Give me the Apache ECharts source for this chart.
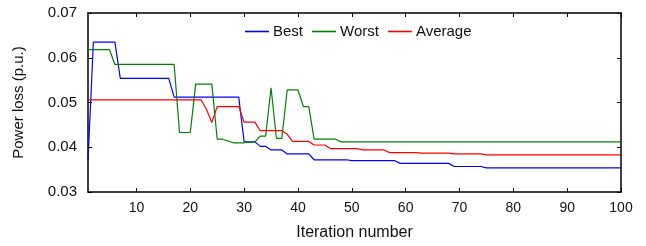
<!DOCTYPE html>
<html>
<head>
<meta charset="utf-8">
<script src="https://cdn.jsdelivr.net/npm/echarts@6/dist/echarts.min.js"></script>
<style>
  html, body { margin: 0; padding: 0; background: #fff; }
  #chart { width: 646px; height: 246px; }
</style>
</head>
<body>
<div id="chart"></div>
<script>
// breakpoints [iteration, loss]; straight segments between them
const bestLoss = [[1,0.0370],[2,0.0635],[6,0.0635],[7,0.0554],[16,0.0554],[17,0.0512],[29,0.0512],[30,0.0412],[32,0.0412],[33,0.0402],[34,0.0402],[35,0.0394],[37,0.0394],[38,0.0385],[42,0.0385],[43,0.0372],[49,0.0372],[50,0.0370],[58,0.0370],[59,0.0364],[68,0.0364],[69,0.0357],[74,0.0357],[75,0.0354],[100,0.0354]];
const worstLoss = [[1,0.0618],[5,0.0618],[6,0.0585],[17,0.0585],[18,0.0433],[20,0.0433],[21,0.0541],[24,0.0541],[25,0.0418],[26,0.0418],[28,0.0410],[30,0.0410],[32,0.0412],[33,0.0425],[34,0.0425],[35,0.0533],[36,0.0420],[37,0.0420],[38,0.0528],[40,0.0528],[41,0.0491],[42,0.0491],[43,0.0418],[47,0.0418],[48,0.0412],[100,0.0412]];
const avgLoss = [[1,0.0506],[22,0.0506],[23,0.0485],[24,0.0455],[25,0.0491],[29,0.0491],[30,0.0456],[32,0.0456],[33,0.0437],[37,0.0437],[38,0.0429],[39,0.0413],[42,0.0413],[43,0.0405],[45,0.0405],[46,0.0397],[51,0.0397],[52,0.0394],[56,0.0394],[57,0.0388],[62,0.0388],[63,0.0387],[68,0.0387],[69,0.0385],[74,0.0385],[75,0.0383],[100,0.0383]];
const xTicks = [10, 20, 30, 40, 50, 60, 70, 80, 90, 100];
const seriesNames = ['Best', 'Worst', 'Average'];
const seriesColors = ['#0000ff', '#008000', '#ff0000'];

const chart = echarts.init(document.getElementById('chart'));
const font = 'Liberation Sans, Arial, sans-serif';
const axisLine = { show: true, lineStyle: { color: '#000', width: 1.5 } };

const mkSeries = (name, data, i) => ({
    name: name,
    type: 'line',
    data: data,
    symbol: 'none',
    showSymbol: false,
    lineStyle: { width: 1.2, color: seriesColors[i] },
    itemStyle: { color: seriesColors[i] }
});

chart.setOption({
    animation: false,
    grid: { left: 88, right: 25, top: 13, bottom: 53 },
    legend: {
        data: seriesNames.map(n => ({ name: n, icon: 'rect' })),
        top: 19,
        left: 240,
        itemWidth: 24,
        itemHeight: 1.6,
        itemGap: 9,
        textStyle: { fontFamily: font, fontSize: 15, color: '#111', padding: [0, 0, 0, -1] }
    },
    xAxis: [{
        type: 'value',
        min: 1,
        max: 100,
        name: 'Iteration number',
        nameLocation: 'middle',
        nameGap: 33,
        nameTextStyle: { fontFamily: font, fontSize: 16, color: '#111' },
        axisLine: axisLine,
        axisTick: { show: true, inside: true, length: 4, customValues: xTicks, lineStyle: { color: '#000' } },
        axisLabel: { customValues: xTicks, fontFamily: font, fontSize: 14, color: '#111', margin: 9 },
        splitLine: { show: false }
    }, {
        type: 'value',
        position: 'top',
        min: 1,
        max: 100,
        axisLine: axisLine,
        axisTick: { show: true, inside: true, length: 4, customValues: xTicks, lineStyle: { color: '#000' } },
        axisLabel: { show: false },
        splitLine: { show: false }
    }],
    yAxis: [{
        type: 'value',
        min: 0.03,
        max: 0.07,
        interval: 0.01,
        name: 'Power loss (p.u.)',
        nameLocation: 'middle',
        nameGap: 62,
        nameTextStyle: { fontFamily: font, fontSize: 15, color: '#111' },
        axisLine: axisLine,
        axisTick: { show: true, inside: true, length: 4, lineStyle: { color: '#000' } },
        axisLabel: { fontFamily: font, fontSize: 15, color: '#111', margin: 11, formatter: v => v.toFixed(2) },
        splitLine: { show: false }
    }, {
        type: 'value',
        position: 'right',
        min: 0.03,
        max: 0.07,
        interval: 0.01,
        axisLine: axisLine,
        axisTick: { show: true, inside: true, length: 4, lineStyle: { color: '#000' } },
        axisLabel: { show: false },
        splitLine: { show: false }
    }],
    series: [
        mkSeries('Best', bestLoss, 0),
        mkSeries('Worst', worstLoss, 1),
        mkSeries('Average', avgLoss, 2)
    ]
});
</script>
</body>
</html>
